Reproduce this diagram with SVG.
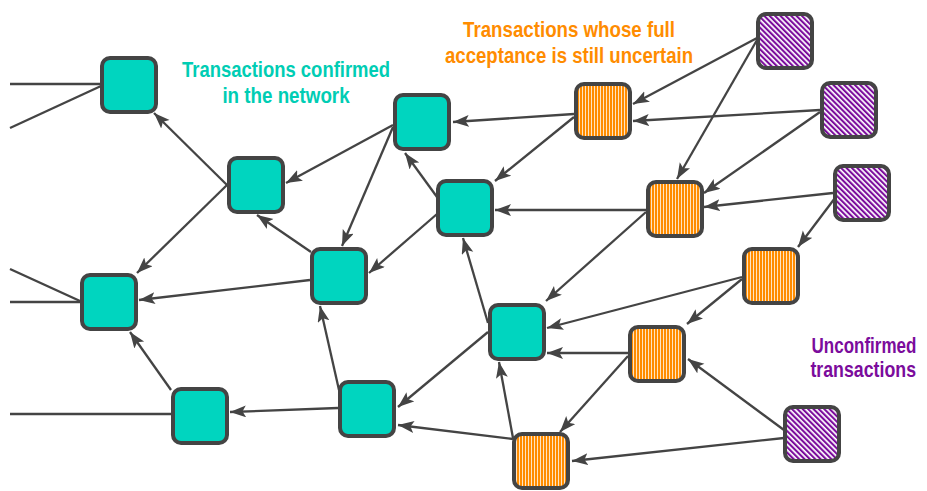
<svg xmlns="http://www.w3.org/2000/svg" width="927" height="491" viewBox="0 0 927 491">
  <style>
    .node { stroke: #444444; stroke-width: 4; }
    .confirmed { fill: #00D5BF; }
    .pending { fill: url(#vstripes); }
    .unconfirmed { fill: url(#dstripes); }
    .edge { stroke: #444444; stroke-width: 2.3; fill: none; }
    .arrow { marker-end: url(#head); }
    .label { font-family: "Liberation Sans", Arial, sans-serif; font-weight: bold; font-size: 22px; text-anchor: middle; }
  </style>
  <defs>
    <marker id="head" markerUnits="userSpaceOnUse" markerWidth="17" markerHeight="13" refX="16" refY="6" orient="auto">
      <path d="M0,0 L16,6 L0,12 L3.5,6 z" fill="#444444"/>
    </marker>
    <!-- orange fill with thin pale vertical stripes -->
    <pattern id="vstripes" patternUnits="userSpaceOnUse" width="3" height="10">
      <rect width="3" height="10" fill="#FF8C00"/>
      <rect x="0" width="1" height="10" fill="#FFE4C2"/>
    </pattern>
    <!-- purple fill with white diagonal stripes -->
    <pattern id="dstripes" patternUnits="userSpaceOnUse" width="10" height="3.8" patternTransform="rotate(45)">
      <rect width="10" height="3.8" fill="#7B0C9C"/>
      <rect y="0" width="10" height="1.7" fill="#FFFFFF"/>
    </pattern>
  </defs>

  <g id="connectors">
    <line class="edge" x1="10" y1="84" x2="101" y2="84"/>
    <line class="edge" x1="10" y1="128" x2="101" y2="86"/>
    <line class="edge" x1="10" y1="269" x2="80" y2="301"/>
    <line class="edge" x1="10" y1="302" x2="80" y2="302"/>
    <line class="edge" x1="10" y1="414" x2="171" y2="414"/>
    <line class="edge arrow" x1="227" y1="185" x2="154" y2="113"/>
    <line class="edge arrow" x1="227" y1="185" x2="137" y2="273"/>
    <line class="edge arrow" x1="393" y1="125" x2="286" y2="183"/>
    <line class="edge arrow" x1="393" y1="127" x2="342" y2="246"/>
    <line class="edge arrow" x1="311" y1="252" x2="257" y2="215"/>
    <line class="edge arrow" x1="310" y1="280" x2="139" y2="300"/>
    <line class="edge arrow" x1="437" y1="197" x2="405" y2="153"/>
    <line class="edge arrow" x1="437" y1="214" x2="369" y2="273"/>
    <line class="edge arrow" x1="574" y1="114" x2="453" y2="122"/>
    <line class="edge arrow" x1="574" y1="117" x2="495" y2="181"/>
    <line class="edge arrow" x1="646" y1="210" x2="495" y2="210"/>
    <line class="edge arrow" x1="646" y1="212" x2="546" y2="301"/>
    <line class="edge arrow" x1="488" y1="323" x2="463" y2="238"/>
    <line class="edge arrow" x1="488" y1="332" x2="398" y2="407"/>
    <line class="edge arrow" x1="742" y1="277" x2="547" y2="328"/>
    <line class="edge arrow" x1="742" y1="279" x2="687" y2="324"/>
    <line class="edge arrow" x1="628" y1="353" x2="547" y2="353"/>
    <line class="edge arrow" x1="628" y1="356" x2="560" y2="432"/>
    <line class="edge arrow" x1="513" y1="438" x2="499" y2="362"/>
    <line class="edge arrow" x1="513" y1="439" x2="398" y2="425"/>
    <line class="edge arrow" x1="339" y1="390" x2="320" y2="306"/>
    <line class="edge arrow" x1="338" y1="408" x2="230" y2="412"/>
    <line class="edge arrow" x1="171" y1="390" x2="130" y2="332"/>
    <line class="edge arrow" x1="757" y1="38" x2="633" y2="104"/>
    <line class="edge arrow" x1="757" y1="40" x2="677" y2="179"/>
    <line class="edge arrow" x1="820" y1="110" x2="633" y2="121"/>
    <line class="edge arrow" x1="820" y1="112" x2="704" y2="193"/>
    <line class="edge arrow" x1="833" y1="193" x2="704" y2="207"/>
    <line class="edge arrow" x1="835" y1="198" x2="798" y2="247"/>
    <line class="edge arrow" x1="784" y1="430" x2="688" y2="359"/>
    <line class="edge arrow" x1="784" y1="438" x2="572" y2="461"/>
  </g>

  <!-- confirmed transactions -->
  <g id="g1"><rect class="node confirmed" x="102" y="58" width="54" height="54" rx="8"/></g>
  <g id="g2"><rect class="node confirmed" x="229" y="158" width="54" height="54" rx="8"/></g>
  <g id="g3"><rect class="node confirmed" x="395" y="95" width="54" height="54" rx="8"/></g>
  <g id="g4"><rect class="node confirmed" x="312" y="249" width="54" height="54" rx="8"/></g>
  <g id="g5"><rect class="node confirmed" x="438" y="181" width="54" height="54" rx="8"/></g>
  <g id="g6"><rect class="node confirmed" x="82" y="275" width="54" height="54" rx="8"/></g>
  <g id="g7"><rect class="node confirmed" x="173" y="389" width="54" height="54" rx="8"/></g>
  <g id="g8"><rect class="node confirmed" x="340" y="382" width="54" height="54" rx="8"/></g>
  <g id="g9"><rect class="node confirmed" x="490" y="305" width="54" height="54" rx="8"/></g>

  <!-- transactions still awaiting full acceptance -->
  <g id="o1"><rect class="node pending" x="576" y="84" width="54" height="54" rx="8"/></g>
  <g id="o2"><rect class="node pending" x="648" y="182" width="54" height="54" rx="8"/></g>
  <g id="o3"><rect class="node pending" x="744" y="249" width="54" height="54" rx="8"/></g>
  <g id="o4"><rect class="node pending" x="630" y="327" width="54" height="54" rx="8"/></g>
  <g id="o5"><rect class="node pending" x="514" y="434" width="54" height="54" rx="8"/></g>

  <!-- unconfirmed transactions -->
  <g id="p1"><rect class="node unconfirmed" x="758" y="14" width="54" height="54" rx="8"/></g>
  <g id="p2"><rect class="node unconfirmed" x="822" y="83" width="54" height="54" rx="8"/></g>
  <g id="p3"><rect class="node unconfirmed" x="835" y="166" width="54" height="54" rx="8"/></g>
  <g id="p4"><rect class="node unconfirmed" x="785" y="407" width="54" height="54" rx="8"/></g>

  <!-- captions: bold type squeezed horizontally to a narrow width -->
  <g id="labels">
    <g transform="translate(286,0) scale(0.8,1)">
      <text class="label" fill="#00CDB4" x="0" y="77" textLength="260" lengthAdjust="spacingAndGlyphs">Transactions confirmed</text>
      <text class="label" fill="#00CDB4" x="0" y="103" textLength="159" lengthAdjust="spacingAndGlyphs">in the network</text>
    </g>
    <g transform="translate(569,0) scale(0.8,1)">
      <text class="label" fill="#FF8C00" x="0" y="37" textLength="265" lengthAdjust="spacingAndGlyphs">Transactions whose full</text>
      <text class="label" fill="#FF8C00" x="0" y="63" textLength="310" lengthAdjust="spacingAndGlyphs">acceptance is still uncertain</text>
    </g>
    <g transform="translate(864,0) scale(0.8,1)">
      <text class="label" fill="#7B0C9C" x="0" y="353" textLength="131" lengthAdjust="spacingAndGlyphs">Unconfirmed</text>
      <text class="label" fill="#7B0C9C" x="-1" y="377" textLength="132" lengthAdjust="spacingAndGlyphs">transactions</text>
    </g>
  </g>
</svg>
